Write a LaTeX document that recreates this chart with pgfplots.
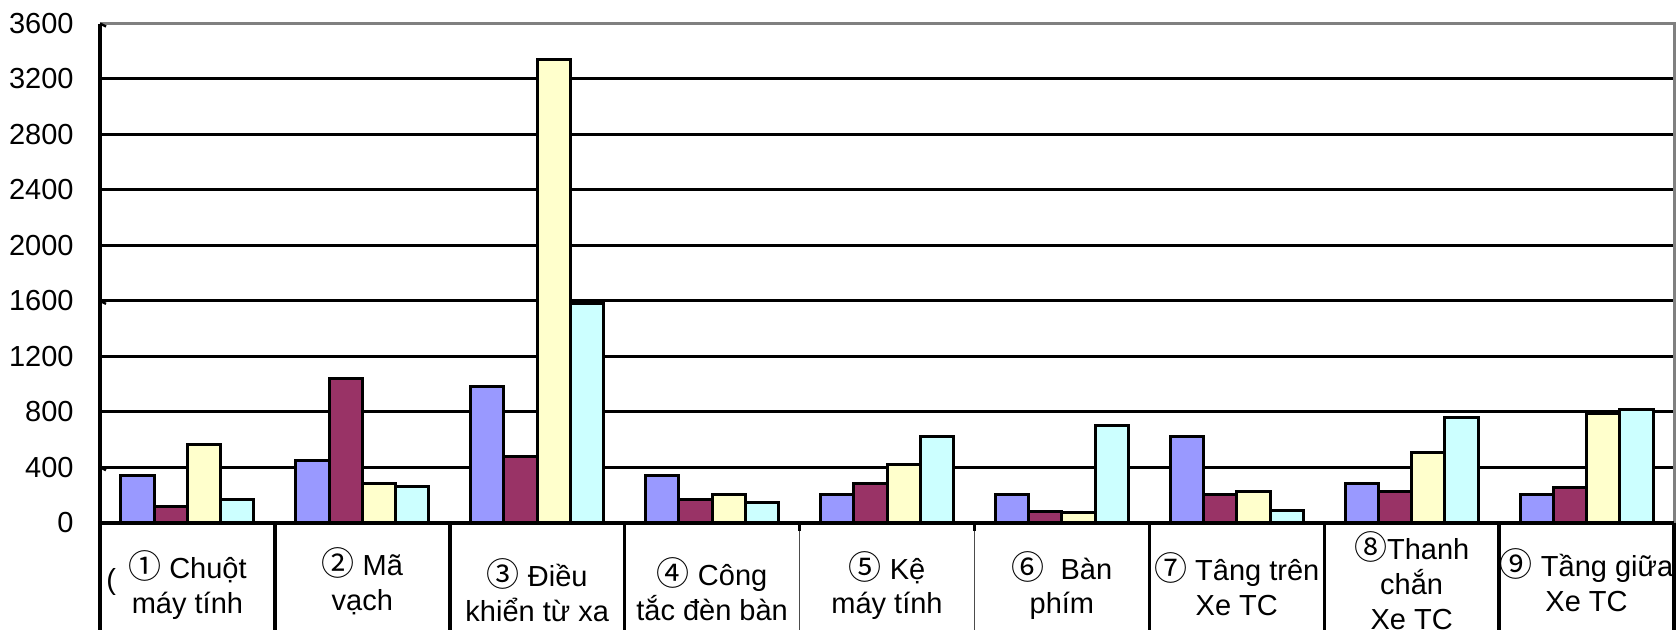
\documentclass[border=0pt]{standalone}
\usepackage{pgfplots}
\pgfplotsset{compat=1.18}
\usepackage{pgfplotstable}
\usepackage{fontspec}
\setmainfont{Liberation Sans}
\newfontfamily\cfont{Noto Sans CJK JP}
\newcommand{\cn}[1]{{\cfont\fontsize{16.5}{17.4}\selectfont #1}}
\tikzset{cat/.style={font=\fontsize{14.5}{17.4}\selectfont, align=center, anchor=center}}

\definecolor{serA}{HTML}{9999FF}
\definecolor{serB}{HTML}{993366}
\definecolor{serC}{HTML}{FFFFCC}
\definecolor{serD}{HTML}{CCFFFF}

% one row per category, four series
\pgfplotstableread{
cat a    b    c    d
0   340  117  565  167
1   448  1040 280  258
2   980  480  3340 1580
3   342  164  200  145
4   200  284  423  623
5   200  80   77   704
6   620  200  226  87
7   284  226  505  760
8   200  255  788  817
}\loadtable

\begin{document}
\begin{tikzpicture}
\useasboundingbox (0,0) rectangle (838pt,314.5pt);
\clip (0,0) rectangle (838pt,314.5pt);
\begin{axis}[
  at={(50pt,53.15pt)}, anchor=south west,
  scale only axis, width=787pt, height=249.6pt,
  xmin=-0.5, xmax=8.5, ymin=0, ymax=3600,
  ybar=0pt, bar width=0.19,
  axis line style={draw=none},
  xtick={0,...,8}, xticklabels={},
  x tick style={draw=none}, y tick style={draw=none},
  ytick={0,400,...,3600},
  ymajorgrids, grid style={black, line width=1.5pt},
  /pgf/number format/assume math mode=true,
  /pgf/number format/1000 sep={},
  yticklabel style={font=\fontsize{14.5}{17}\selectfont, xshift=-9.7pt},
  clip=false,
  every axis plot/.append style={draw=black, line width=1.5pt},
]
\addplot[fill=serA] table[x=cat, y=a] {\loadtable};
\addplot[fill=serB] table[x=cat, y=b] {\loadtable};
\addplot[fill=serC] table[x=cat, y=c] {\loadtable};
\addplot[fill=serD] table[x=cat, y=d] {\loadtable};

% frame: grey top and right edge, black left edge and base line
\draw[gray, line width=1.5pt] (rel axis cs:0,1) -- (rel axis cs:1,1) -- (rel axis cs:1,0);
\draw[black, line width=2pt] (axis cs:-0.5,3600) -- (axis cs:-0.5,0) -- ++(0pt,-80pt);
\draw[black, line width=2pt] (axis cs:-0.5,0) -- (axis cs:8.5,0);
% short marks on the left edge
\draw[black, line width=1.2pt] (axis cs:-0.5,3600) -- ++(3pt,-1.5pt);
\draw[black, line width=1.2pt] (axis cs:-0.5,1600) -- ++(3pt,-1.5pt);
\draw[black, line width=1.2pt] (axis cs:-0.5,400) -- ++(3pt,-1.5pt);

% cells of the category row
\draw[black, line width=1.8pt] (axis cs:0.5,0) -- ++(0pt,-80pt);
\draw[black, line width=1.8pt] (axis cs:1.5,0) -- ++(0pt,-80pt);
\draw[black, line width=1.8pt] (axis cs:2.5,0) -- ++(0pt,-80pt);
\draw[black!70, line width=0.8pt] (axis cs:3.5,0) -- ++(0pt,-80pt);
\draw[black!70, line width=0.8pt] (axis cs:4.5,0) -- ++(0pt,-80pt);
\draw[black, line width=1.8pt] (axis cs:5.5,0) -- ++(0pt,-80pt);
\draw[black, line width=1.3pt] (axis cs:6.5,0) -- ++(0pt,-80pt);
\draw[black, line width=1.8pt] (axis cs:7.5,0) -- ++(0pt,-80pt);
\draw[black, line width=1.8pt] (axis cs:8.5,0) -- ++(0pt,-80pt);
\draw[black, line width=1.2pt] (axis cs:3.5,0) -- ++(0pt,-4pt);
\draw[black, line width=1.2pt] (axis cs:4.5,0) -- ++(0pt,-4pt);

% category names
\node[cat, yshift=-31.2pt] at (axis cs:0,0) {\cn{①} Chuột\\máy tính};
\node[cat, yshift=-29.4pt] at (axis cs:1,0) {\cn{②} Mã\\vạch};
\node[cat, yshift=-33.9pt] at (axis cs:2,0) {\cn{③} Điều\\khiển từ xa};
\node[cat, yshift=-33.2pt] at (axis cs:3,0) {\cn{④} Công\\tắc đèn bàn};
\node[cat, yshift=-31.4pt] at (axis cs:4,0) {\cn{⑤} Kệ\\máy tính};
\node[cat, yshift=-31.4pt] at (axis cs:5,0) {\cn{⑥}\ \ Bàn\\phím};
\node[cat, yshift=-30.9pt] at (axis cs:6,0) {\cn{⑦} Tâng trên\\Xe TC};
\node[cat, yshift=-28.9pt] at (axis cs:7,0) {\cn{⑧}Thanh\\chắn\\Xe TC};
\node[cat, yshift=-28.7pt] at (axis cs:8,0) {\cn{⑨} Tầng giữa\\Xe TC};
\node[font=\fontsize{14.5}{17.4}\selectfont, anchor=west, inner sep=0pt]
  at (axis cs:-0.5,0) [xshift=3pt, yshift=-29.5pt] {(};
\end{axis}
\end{tikzpicture}
\end{document}
